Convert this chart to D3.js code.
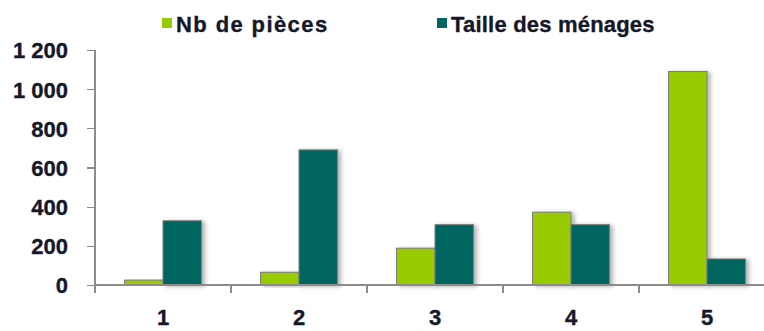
<!DOCTYPE html>
<meta charset="utf-8">
<style>
body {
  margin: 0;
  background: #fff;
}

svg {
  display: block;
  font-family: "Liberation Sans", Arial, sans-serif;
  font-weight: bold;
}

.axis path,
.axis line {
  stroke: #8c8c8c;
  stroke-width: 1.3px;
  shape-rendering: crispEdges;
}

.axis text,
.legend text {
  fill: #17172a;
  stroke: #17172a;
  stroke-width: 0.35px;
}

.bar {
  stroke: #7a7a7a;
  stroke-width: 1px;
}
</style>

<svg id="chart" width="764" height="331"></svg>

<script src="https://cdn.jsdelivr.net/npm/d3@7"></script>
<script>

//	categories and series
var categories = ["1", "2", "3", "4", "5"];
var seriesNames = ["Nb de pièces", "Taille des ménages"];
var seriesColors = ["#99cc00", "#02655f"];

//	values per category, one array per series
var nbPieces = [25, 65, 188, 372, 1090];
var tailleMenages = [328, 690, 308, 308, 133];

var yTicks = [0, 200, 400, 600, 800, 1000, 1200];

var svg = d3.select("#chart");

var margin = {left: 95, top: 50, bottom: 285},
    plotRight = 775;

var rows = categories.map(function(c, i) {
  return {cat: c, values: [nbPieces[i], tailleMenages[i]]};
});

//	scales
var x0 = d3.scaleBand()
    .domain(categories)
    .range([margin.left, plotRight]);

var x1 = d3.scaleBand()
    .domain([0, 1])
    .range([0, x0.bandwidth()])
    .paddingOuter(0.77);

var y = d3.scaleLinear()
    .domain([0, 1200])
    .range([margin.bottom, margin.top]);

//	"1 200" style numbers
var fr = d3.formatLocale({decimal: ",", thousands: " ", grouping: [3], currency: ["", " €"]});
var fmt = fr.format(",d");

//	soft shadow behind the bars
var defs = svg.append("defs");
var shadow = defs.append("filter")
    .attr("id", "shadow")
    .attr("x", "-20%").attr("y", "-10%")
    .attr("width", "160%").attr("height", "130%");
shadow.append("feDropShadow")
    .attr("dx", 3).attr("dy", 1)
    .attr("stdDeviation", 2)
    .attr("flood-color", "#000")
    .attr("flood-opacity", 0.3);

//	bars
var groups = svg.append("g").selectAll("g")
  .data(rows)
  .enter().append("g")
    .attr("transform", function(d) { return "translate(" + x0(d.cat) + ",0)"; });

groups.selectAll("rect")
  .data(function(d) { return d.values.map(function(v, i) { return {s: i, v: v}; }); })
  .enter().append("rect")
    .attr("class", "bar")
    .attr("filter", "url(#shadow)")
    .attr("x", function(d) { return x1(d.s); })
    .attr("y", function(d) { return y(d.v); })
    .attr("width", x1.bandwidth())
    .attr("height", function(d) { return y(0) - y(d.v); })
    .attr("fill", function(d) { return seriesColors[d.s]; });

//	y axis
var yAxis = svg.append("g")
    .attr("class", "axis")
    .attr("transform", "translate(" + margin.left + ",0)")
    .call(d3.axisLeft(y).tickValues(yTicks).tickFormat(fmt).tickSize(8).tickSizeOuter(0).tickPadding(19));

yAxis.select(".domain").attr("d", "M0," + margin.top + "V" + (margin.bottom + 8));
yAxis.selectAll("text")
    .style("font-size", "22px")
    .attr("dy", "0.36em");

//	x axis: baseline with ticks at the category boundaries
var xAxis = svg.append("g")
    .attr("class", "axis")
    .attr("transform", "translate(0," + margin.bottom + ")");

xAxis.append("line")
    .attr("x1", margin.left)
    .attr("x2", plotRight);

xAxis.selectAll(".sep")
  .data(categories.slice(1))
  .enter().append("line")
    .attr("class", "sep")
    .attr("x1", function(d) { return x0(d); })
    .attr("x2", function(d) { return x0(d); })
    .attr("y1", 0)
    .attr("y2", 8);

xAxis.selectAll("text")
  .data(categories)
  .enter().append("text")
    .attr("x", function(d) { return x0(d) + x0.bandwidth() / 2; })
    .attr("y", 40)
    .attr("text-anchor", "middle")
    .style("font-size", "22px")
    .text(function(d) { return d; });

//	legend
var legendX = [162, 437];
var legendSpacing = ["1.4px", "0.2px"];
var legend = svg.append("g")
    .attr("class", "legend")
  .selectAll("g")
  .data(seriesNames)
  .enter().append("g")
    .attr("transform", function(d, i) { return "translate(" + legendX[i] + ",0)"; });

legend.append("rect")
    .attr("x", 0)
    .attr("y", 18)
    .attr("width", 10)
    .attr("height", 10)
    .attr("fill", function(d, i) { return seriesColors[i]; });

legend.append("text")
    .attr("x", 14)
    .attr("y", 32)
    .style("font-size", "22px")
    .style("letter-spacing", function(d, i) { return legendSpacing[i]; })
    .text(function(d) { return d; });

</script>
